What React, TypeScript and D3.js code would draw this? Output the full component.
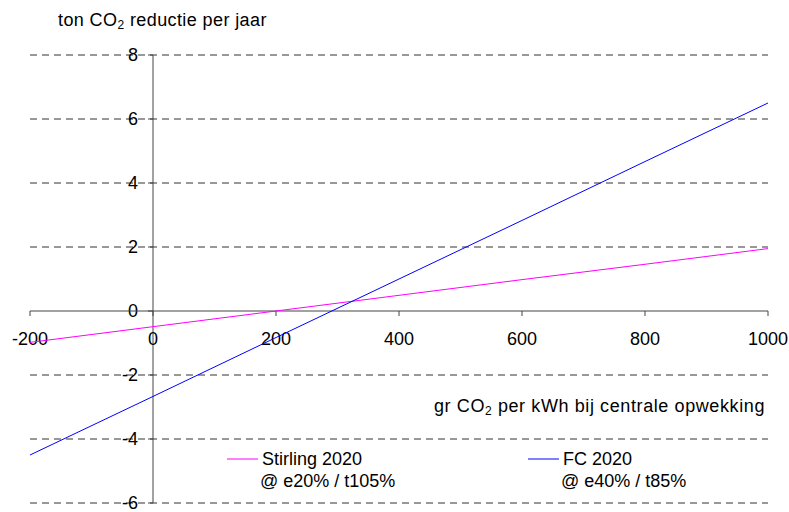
import { useEffect, useRef } from "react"
import * as d3 from "d3"

// data
const xValues = [-200, 0, 200, 400, 600, 800, 1000]
const stirling = [-0.98, -0.49, 0, 0.49, 0.98, 1.46, 1.95]
const fc = [-4.5, -2.67, -0.83, 1.0, 2.83, 4.67, 6.5]
const xTicks = [-200, 0, 200, 400, 600, 800, 1000]
const yTicks = [-6, -4, -2, 0, 2, 4, 6, 8]

const series = [
  { name: "Stirling 2020", sub: "@ e20% / t105%", values: stirling, color: "#ff00ff" },
  { name: "FC 2020", sub: "@ e40% / t85%", values: fc, color: "#0000ff" },
]

const W = 789
const H = 512
const FONT = "'Liberation Sans', Arial, sans-serif"
const FS = 18

export default function App() {
  const svgRef = useRef<SVGSVGElement>(null)

  useEffect(() => {
    const svg = d3.select(svgRef.current)
    svg.selectAll("*").remove()

    const x = d3.scaleLinear().domain([-200, 1000]).range([30, 768])
    const y = d3.scaleLinear().domain([-6, 8]).range([503, 55])

    // dashed gridlines
    svg
      .append("g")
      .selectAll("line")
      .data(yTicks.filter((d) => d !== 0))
      .join("line")
      .attr("x1", x(-200))
      .attr("x2", x(1000))
      .attr("y1", (d) => y(d))
      .attr("y2", (d) => y(d))
      .attr("stroke", "#333")
      .attr("stroke-width", 1)
      .attr("stroke-dasharray", "7,5")

    // vertical axis at x = 0
    const yAxis = svg.append("g")
    yAxis
      .append("line")
      .attr("x1", x(0))
      .attr("x2", x(0))
      .attr("y1", y(8))
      .attr("y2", y(-6))
      .attr("stroke", "#444")
    yAxis
      .selectAll("line.tick")
      .data(yTicks)
      .join("line")
      .attr("class", "tick")
      .attr("x1", x(0) - 5)
      .attr("x2", x(0))
      .attr("y1", (d) => y(d))
      .attr("y2", (d) => y(d))
      .attr("stroke", "#444")
    yAxis
      .selectAll("text")
      .data(yTicks)
      .join("text")
      .attr("x", x(0) - 15)
      .attr("y", (d) => y(d))
      .attr("dy", "0.35em")
      .attr("text-anchor", "end")
      .attr("font-size", FS)
      .attr("font-family", FONT)
      .text((d) => d)

    // horizontal axis at y = 0
    const xAxis = svg.append("g")
    xAxis
      .append("line")
      .attr("x1", x(-200))
      .attr("x2", x(1000))
      .attr("y1", y(0))
      .attr("y2", y(0))
      .attr("stroke", "#444")
    xAxis
      .selectAll("line.tick")
      .data(xTicks)
      .join("line")
      .attr("class", "tick")
      .attr("x1", (d) => x(d))
      .attr("x2", (d) => x(d))
      .attr("y1", y(0))
      .attr("y2", y(0) + 5)
      .attr("stroke", "#444")
    xAxis
      .selectAll("text")
      .data(xTicks)
      .join("text")
      .attr("x", (d) => x(d))
      .attr("y", y(0) + 34)
      .attr("text-anchor", "middle")
      .attr("font-size", FS)
      .attr("font-family", FONT)
      .text((d) => d)

    // series lines
    const line = d3
      .line<number>()
      .x((_, i) => x(xValues[i]))
      .y((d) => y(d))
    svg
      .append("g")
      .selectAll("path")
      .data(series)
      .join("path")
      .attr("d", (s) => line(s.values))
      .attr("fill", "none")
      .attr("stroke", (s) => s.color)
      .attr("stroke-width", 1)

    // axis titles
    const yTitle = svg
      .append("text")
      .attr("x", 58)
      .attr("y", 26)
      .attr("font-size", FS)
      .attr("font-family", FONT)
      .attr("letter-spacing", 0.4)
    yTitle.append("tspan").text("ton CO")
    yTitle.append("tspan").attr("font-size", 12).attr("dy", 3).text("2")
    yTitle.append("tspan").attr("dy", -3).text(" reductie per jaar")

    const xTitle = svg
      .append("text")
      .attr("x", 765)
      .attr("y", 412)
      .attr("text-anchor", "end")
      .attr("font-size", FS)
      .attr("font-family", FONT)
      .attr("letter-spacing", 0.6)
    xTitle.append("tspan").text("gr CO")
    xTitle.append("tspan").attr("font-size", 12).attr("dy", 3).text("2")
    xTitle.append("tspan").attr("dy", -3).text(" per kWh bij centrale opwekking")

    // legend
    const legendX = [227, 528]
    const lg = svg
      .append("g")
      .selectAll("g")
      .data(series)
      .join("g")
      .attr("transform", (_, i) => `translate(${legendX[i]},459)`)
    lg.append("line")
      .attr("x1", 0)
      .attr("x2", 31)
      .attr("y1", 0)
      .attr("y2", 0)
      .attr("stroke", (s) => s.color)
    lg.append("text")
      .attr("x", 35)
      .attr("y", 6)
      .attr("font-size", FS)
      .attr("font-family", FONT)
      .text((s) => s.name)
    lg.append("text")
      .attr("x", 33)
      .attr("y", 28)
      .attr("font-size", FS)
      .attr("font-family", FONT)
      .text((s) => s.sub)
  }, [])

  return (
    <svg
      ref={svgRef}
      width={W}
      height={H}
      style={{ position: "absolute", left: 0, top: 0, background: "#fff" }}
    />
  )
}
